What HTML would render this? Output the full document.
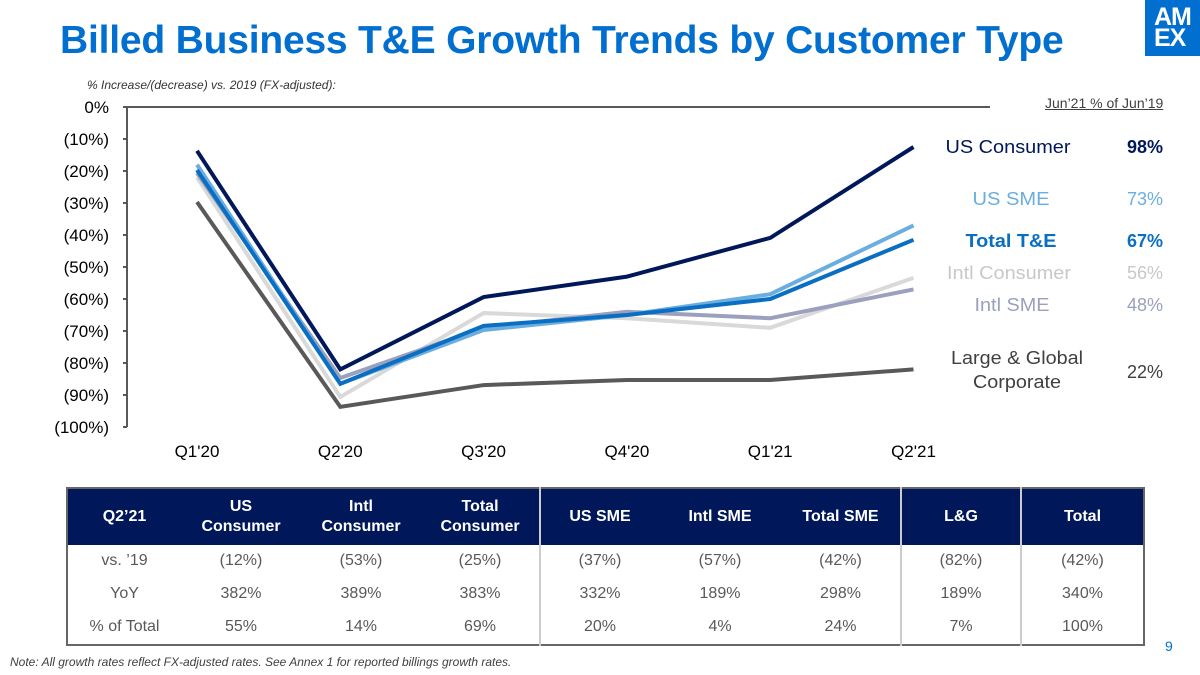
<!DOCTYPE html>
<html><head><meta charset="utf-8"><style>
body{margin:0;width:1200px;height:675px;background:#fff;font-family:"Liberation Sans",sans-serif;position:relative;overflow:hidden}
.abs{position:absolute}
table{border-collapse:collapse;table-layout:fixed;position:absolute;left:66px;top:487px;width:1077px;height:159px;border:2px solid #666;font-size:16px;color:#595959;text-align:center}
th{background:#00175a;color:#fff;font-weight:bold;height:55px;padding:0;line-height:20px}
td{padding:0}
.dv{border-left:2px solid #ccc}
</style></head><body>
<div class="abs" style="left:60px;top:19px;font-size:39px;font-weight:bold;color:#006fcf;letter-spacing:-0.2px">Billed Business T&amp;E Growth Trends by Customer Type</div>
<div class="abs" style="left:1145px;top:0;width:60px;height:56px;background:#006fcf;color:#fff;font-weight:900;font-size:25px;line-height:21px;padding:7px 0 0 9px;box-sizing:border-box;letter-spacing:-1px">AM<br>EX</div>
<div class="abs" style="left:87px;top:78px;font-size:12px;font-style:italic;color:#333">% Increase/(decrease) vs. 2019 (FX-adjusted):</div>
<div class="abs" style="left:1045px;top:95px;font-size:14px;color:#404040;text-decoration:underline">Jun’21 % of Jun’19</div>
<svg class="abs" style="left:0;top:0" width="1200" height="480" id="chart"></svg>
<table>
<colgroup><col style="width:114px"><col style="width:120px"><col style="width:120px"><col style="width:119px"><col style="width:119px"><col style="width:122px"><col style="width:120px"><col style="width:120px"><col style="width:123px"></colgroup>
<tr style="height:57px"><th>Q2’21</th><th>US<br>Consumer</th><th>Intl<br>Consumer</th><th>Total<br>Consumer</th><th class="dv">US SME</th><th>Intl SME</th><th>Total SME</th><th class="dv">L&amp;G</th><th class="dv">Total</th></tr>
<tr><td>vs. ’19</td><td>(12%)</td><td>(53%)</td><td>(25%)</td><td class="dv">(37%)</td><td>(57%)</td><td>(42%)</td><td class="dv">(82%)</td><td class="dv">(42%)</td></tr>
<tr><td>YoY</td><td>382%</td><td>389%</td><td>383%</td><td class="dv">332%</td><td>189%</td><td>298%</td><td class="dv">189%</td><td class="dv">340%</td></tr>
<tr><td>% of Total</td><td>55%</td><td>14%</td><td>69%</td><td class="dv">20%</td><td>4%</td><td>24%</td><td class="dv">7%</td><td class="dv">100%</td></tr>
</table>
<div class="abs" style="left:10px;top:655px;font-size:12px;font-style:italic;color:#404040">Note: All growth rates reflect FX-adjusted rates. See Annex 1 for reported billings growth rates.</div>
<div class="abs" style="left:1165px;top:638px;font-size:14px;color:#006fcf">9</div>
<script>
const categories=["Q1'20","Q2'20","Q3'20","Q4'20","Q1'21","Q2'21"];
const yTicks=[0,-10,-20,-30,-40,-50,-60,-70,-80,-90,-100];
const seriesNames=["Large & Global Corporate","Intl Consumer","Intl SME","US SME","Total T&E","US Consumer"];
const lgCorp=[-29.7,-93.7,-86.9,-85.3,-85.3,-82];
const intlConsumer=[-22,-90.6,-64.4,-66,-69,-53.4];
const intlSME=[-20.6,-84.7,-69,-64,-66,-57];
const usSME=[-18,-86.5,-69.7,-65,-58.5,-37];
const totalTE=[-19.7,-86.5,-68.4,-65,-60,-41.5];
const usConsumer=[-13.7,-82,-59.4,-53,-40.9,-12.5];
const seriesValues=[lgCorp,intlConsumer,intlSME,usSME,totalTE,usConsumer];
const colors=["#595959","#d9d9d9","#9aa0bd","#6aaee0","#0a6fc2","#00175a"];
const ns="http://www.w3.org/2000/svg",svg=document.getElementById('chart');
const y=v=>107-v*3.2, x=i=>197+i*143.3;
function mk(t,a){const e=document.createElementNS(ns,t);for(const k in a)e.setAttribute(k,a[k]);svg.appendChild(e);return e;}
let ax=mk('path',{d:'M127 107H990M127 107V427',stroke:'#595959','stroke-width':2,fill:'none'});


yTicks.forEach(v=>{
 const tk=mk('line',{x1:123,x2:127,y1:y(v),y2:y(v),stroke:'#595959','stroke-width':2});
 
 
 const t=mk('text',{x:109,y:y(v)+6,'text-anchor':'end','font-size':17,fill:'#000','font-family':'Liberation Sans'});
 t.textContent=v===0?'0%':'('+(-v)+'%)';
 
 
});
categories.forEach((c,i)=>{
 const t=mk('text',{x:x(i),y:457,'text-anchor':'middle','font-size':17,fill:'#000','font-family':'Liberation Sans'});
 t.textContent=c;
 
 
});
seriesValues.forEach((s,k)=>{
 const p=mk('polyline',{points:s.map((v,i)=>x(i)+','+y(v)).join(' '),fill:'none',stroke:colors[k],'stroke-width':4,'stroke-linejoin':'miter'});
 
 
});
const legend=[["US Consumer","98%","#00175a",147,false,125,1008],["US SME","73%","#6aaee0",199,false,77,1011],["Total T&E","67%","#0a6fc2",241,true,91,1011],["Intl Consumer","56%","#c8c8c8",273,false,124,1009],["Intl SME","48%","#9aa0bd",305,false,75,1012],["Large & Global","22%","#404040",358,false,132,1017]];
legend.forEach(l=>{
 const t=mk('text',{x:l[6],y:l[3]+6,'text-anchor':'middle','font-size':18,fill:l[2],'font-weight':l[4]?'bold':'normal','font-family':'Liberation Sans','textLength':l[5],'lengthAdjust':'spacingAndGlyphs'});
 t.textContent=l[0];
 
 
 const v=mk('text',{x:1145,y:(l[0]==='Large & Global'?372:l[3])+6,'text-anchor':'middle','font-size':18,fill:l[2],'font-weight':(l[4]||l[0]==='US Consumer')?'bold':'normal','font-family':'Liberation Sans'});
 v.textContent=l[1];
 
 
});
const c2=mk('text',{x:1017,y:388,'text-anchor':'middle','font-size':18,fill:'#404040','font-family':'Liberation Sans','textLength':88,'lengthAdjust':'spacingAndGlyphs'});
c2.textContent='Corporate';


</script>
</body></html>
